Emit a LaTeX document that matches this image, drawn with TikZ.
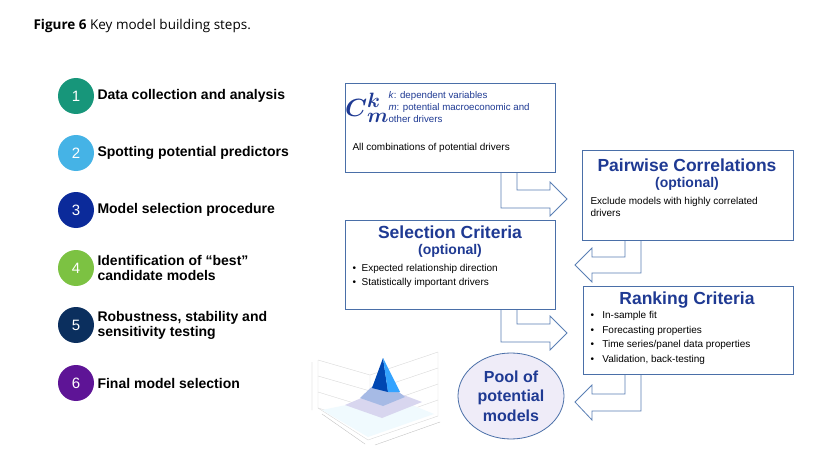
\documentclass[tikz,border=0pt]{standalone}
\usepackage{amsmath}
\usepackage{fontspec}
\setmainfont{Liberation Sans}
\newfontfamily\titlefont{Open Sans}
\usetikzlibrary{shapes.geometric}
\begin{document}
\begin{tikzpicture}[x=1pt,y=-1pt,
  box/.style={draw=boxc,line width=0.8pt,fill=white},
  num/.style={circle,minimum size=36pt,inner sep=0pt,text=white,font=\fontsize{15}{15}\selectfont},
  steptxt/.style={anchor=west,align=left,font=\bfseries\fontsize{14}{15}\selectfont},
  ttl/.style={text=ttlc,font=\bfseries\fontsize{17.5}{18}\selectfont},
  opt/.style={text=ttlc,font=\bfseries\fontsize{14}{15}\selectfont},
  sm/.style={anchor=west,align=left,font=\fontsize{10}{11}\selectfont},
  arr/.style={draw=arrc,line width=0.8pt,fill=white,line join=miter}]
\definecolor{boxc}{HTML}{4A6FA8}
\definecolor{arrc}{HTML}{5A7FB5}
\definecolor{ttlc}{HTML}{1F3A93}
\definecolor{c1}{HTML}{17967A}
\definecolor{c2}{HTML}{45B3E6}
\definecolor{c3}{HTML}{0B2A9A}
\definecolor{c4}{HTML}{7CC242}
\definecolor{c5}{HTML}{0B2F5E}
\definecolor{c6}{HTML}{5E1496}
\useasboundingbox (0,0) rectangle (823,460);
\fill[white] (0,0) rectangle (823,460);
\node[anchor=west,font=\titlefont\fontsize{13.5}{14}\selectfont] (title) at (30,26) {\textbf{Figure 6} Key model building steps.};
% steps
\foreach \i/\c/\y/\t in {1/c1/96/Data collection and analysis,2/c2/153/Spotting potential predictors,3/c3/210/Model selection procedure,4/c4/268/{Identification of ``best''\\candidate models},5/c5/325/{Robustness, stability and\\sensitivity testing},6/c6/383/Final model selection}{
  \node[num,fill=\c] (n\i) at (76,\y) {\i};
  \node[steptxt] (s\i) at (94,\y) {\t};
}
% arrows
\path[arr] (501,172)--(501,208)--(550,208)--(550,216)--(567,199)--(550,182)--(550,190)--(517,190)--(517,172);
\path[arr] (641,240)--(641,273)--(592,273)--(592,282)--(575,265)--(592,248)--(592,257)--(625,257)--(625,240);
\path[arr] (501,309)--(501,342)--(550,342)--(550,350)--(567,333)--(550,316)--(550,324)--(517,324)--(517,309);
\path[arr] (641,374)--(641,411)--(592,411)--(592,420)--(575,402)--(592,385)--(592,394)--(625,394)--(625,374);
% boxes
\draw[box] (345,83) rectangle (555,172);
\node[text=ttlc,font=\fontsize{28}{28}\selectfont] (C) at (367,108) {$\boldsymbol{C}^{\boldsymbol{k}}_{\boldsymbol{m}}$};
\node[sm,text=ttlc,font=\fontsize{9.7}{12}\selectfont] (kd) at (385,107) {\textit{k}: dependent variables\\\textit{m}: potential macroeconomic and\\other drivers};
\node[sm] (all) at (349,148) {All combinations of potential drivers};

\draw[box] (582,150) rectangle (793,240);
\node[ttl] (pt) at (687,165) {Pairwise Correlations};
\node[opt] (po) at (687,184) {(optional)};
\node[sm,font=\fontsize{10}{12.5}\selectfont] (pe) at (587,207) {Exclude models with highly correlated\\drivers};

\draw[box] (345,220) rectangle (555,309);
\node[ttl] (st) at (450,232) {Selection Criteria};
\node[opt] (so) at (450,251) {(optional)};
\node[sm,font=\fontsize{10}{14.5}\selectfont] (se) at (349,276) {\textbullet\ \ Expected relationship direction\\\textbullet\ \ Statistically important drivers};

\draw[box] (583,286) rectangle (793,374);
\node[ttl] (rt) at (687,300) {Ranking Criteria};
\node[sm,font=\fontsize{10}{14.5}\selectfont] (re) at (587,338) {\textbullet\ \ \ In-sample fit\\\textbullet\ \ \ Forecasting properties\\\textbullet\ \ \ Time series/panel data properties\\\textbullet\ \ \ Validation, back-testing};

\node[ellipse,draw=boxc,fill=cyan!8!blue!6,line width=0.8pt,minimum width=106pt,minimum height=86pt,inner sep=0pt,align=center,text=ttlc,font=\bfseries\fontsize{16}{19.5}\selectfont] (pool) at (511,396) {Pool of\\potential\\models};
% 3D plot
\begin{scope}[draw=gray!30,line width=0.4pt]
\draw (318,360)--(318,408)--(370,424)--(438,400)--(438,352) (370,424)--(370,375) (318,360)--(370,375)--(438,352);
\draw (318,376)--(370,391)--(438,368) (318,392)--(370,408)--(438,384);
\draw (318,408)--(368,440)--(438,416)--(438,400);
\end{scope}
\fill[cyan!6] (322,410)--(368,437)--(434,414)--(390,396)--cycle;
\fill[cyan!20!blue!15] (345,405)--(385,388)--(422,402)--(382,418)--cycle;
\fill[cyan!45!blue!35] (360,398)--(381,378)--(405,397)--(383,406)--cycle;
\fill[blue!60!cyan!70!black] (372,388)--(383,358)--(388,392)--cycle;
\fill[blue!45!cyan!80] (383,358)--(400,392)--(388,392)--cycle;
\draw[gray!55,line width=0.3pt] (312,362)--(312,410) (322,414)--(365,444) (375,445)--(440,422);
\end{tikzpicture}
\end{document}
